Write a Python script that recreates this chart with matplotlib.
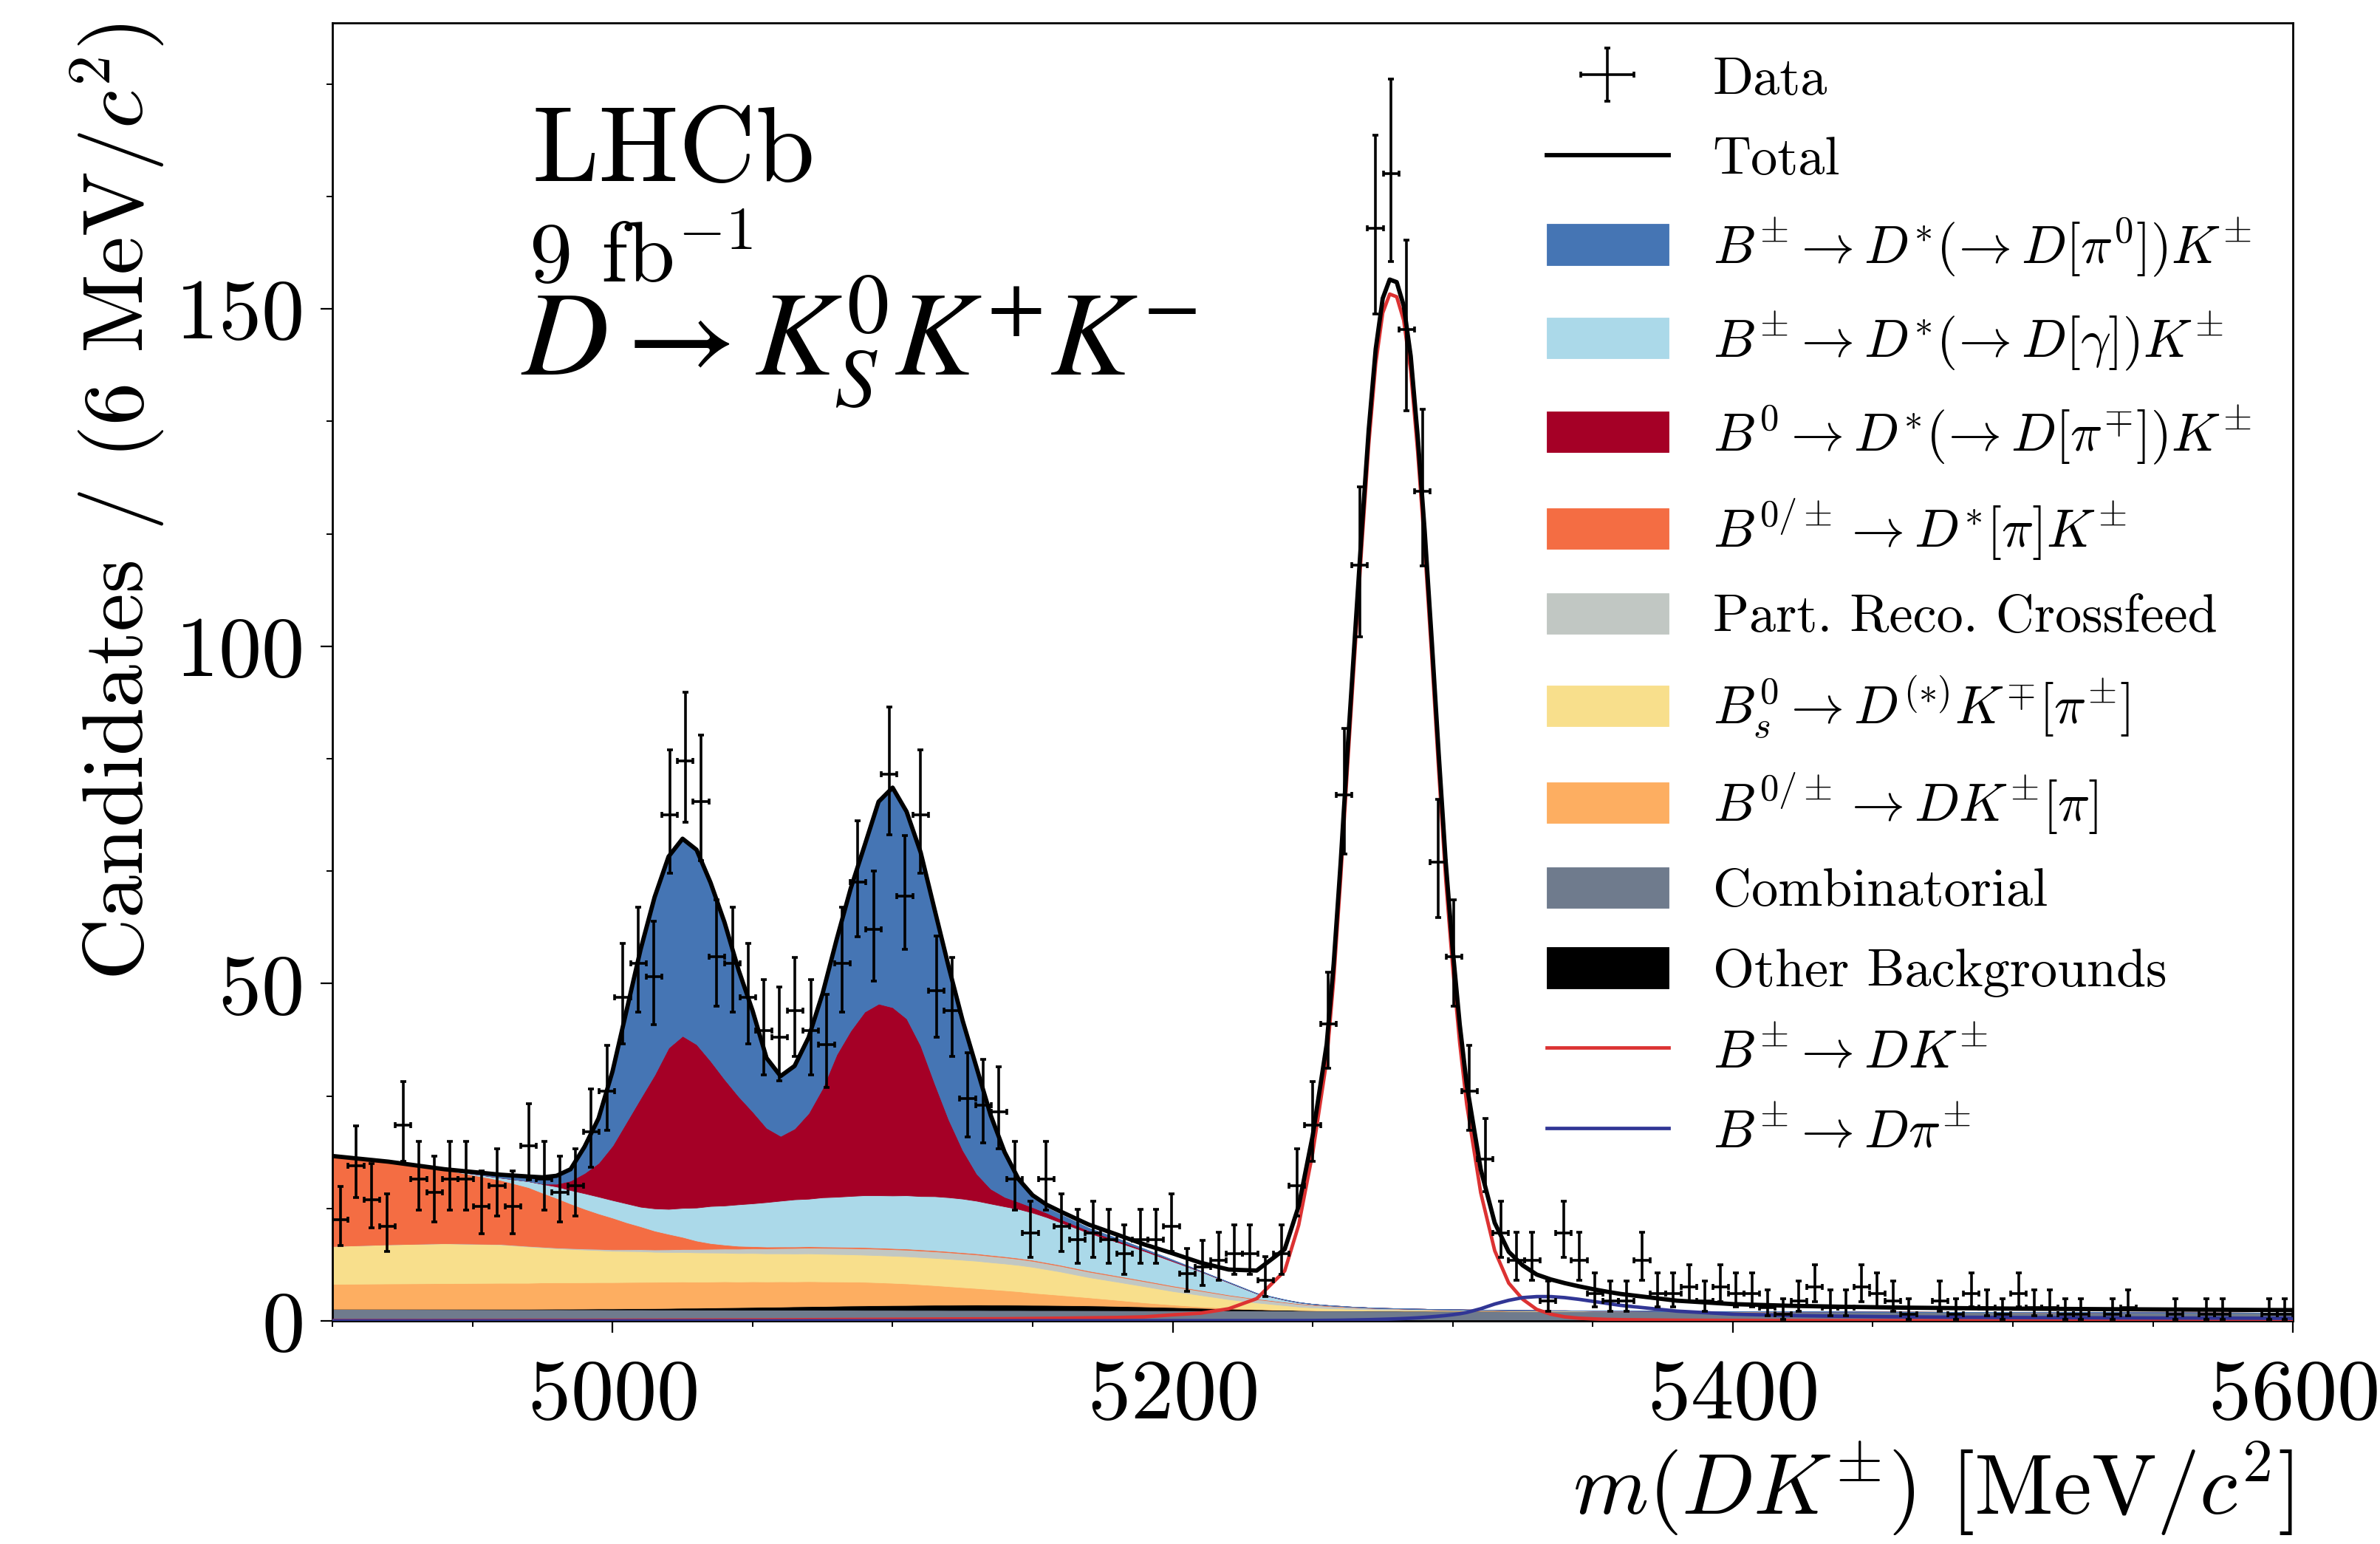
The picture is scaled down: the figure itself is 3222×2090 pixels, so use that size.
import numpy as np
import matplotlib
matplotlib.use('Agg')
import matplotlib.pyplot as plt
from matplotlib.ticker import MultipleLocator, AutoMinorLocator

plt.rcParams.update({
    'font.family': 'serif',
    'font.serif': ['cmr10'],
    'mathtext.fontset': 'cm',
    'axes.unicode_minus': False,
    'axes.formatter.use_mathtext': True,
})

# --- data: B -> DK candidates, 125 bins between 4900 and 5600 MeV ---
m_lo, m_hi, n_bins = 4900, 5600, 125
counts = [
    15, 23, 18, 14, 29, 21, 19, 21, 21, 17,
    20, 17, 26, 21, 19, 20, 28, 34, 48, 53,
    51, 75, 83, 77, 54, 53, 48, 43, 42, 46,
    43, 41, 53, 65, 58, 81, 63, 75, 49, 46,
    33, 32, 31, 21, 13, 21, 14, 12, 13, 12,
    10, 12, 12, 14, 7, 8, 9, 10, 10, 6,
    10, 20, 29, 44, 78, 112, 162, 170, 147, 123,
    68, 54, 34, 24, 13, 9, 9, 3, 13, 9,
    4, 3, 3, 9, 4, 4, 5, 3, 5, 4,
    4, 2, 1, 3, 5, 2, 2, 5, 4, 3,
    1, 0, 3, 1, 4, 2, 1, 4, 2, 2,
    1, 1, 0, 1, 2, 0, 0, 1, 0, 1,
    1, 0, 0, 1, 1,
]

# --- fit model, evaluated on a mass grid (denser around the peaks) ---
x_fit = np.concatenate([
    [4900, 4920, 4940, 4960],
    np.arange(4970, 5161, 5),
    np.arange(5170, 5241, 10),
    [5245, 5250],
    np.arange(5255, 5305.1, 2.5),
    [5310, 5315],
    np.arange(5320, 5361, 5),
    np.arange(5380, 5601, 20),
])

comb = [
    1.75, 1.74, 1.73, 1.71,
    1.70, 1.70, 1.70, 1.69, 1.69, 1.69, 1.68, 1.68, 1.68, 1.67,
    1.67, 1.67, 1.66, 1.66, 1.66, 1.65, 1.65, 1.65, 1.64, 1.64,
    1.64, 1.63, 1.63, 1.63, 1.62, 1.62, 1.62, 1.61, 1.61, 1.61,
    1.60, 1.60, 1.60, 1.59, 1.59, 1.59, 1.58, 1.58, 1.58,
    1.57, 1.56, 1.55, 1.55, 1.54, 1.53, 1.52, 1.52,
    1.51, 1.51, 1.51, 1.51, 1.51, 1.51, 1.51, 1.51, 1.50, 1.50, 1.50, 1.50, 1.50,
    1.50, 1.50, 1.50, 1.50, 1.49, 1.49, 1.49, 1.49, 1.49, 1.49, 1.49, 1.49,
    1.48, 1.48, 1.48, 1.47, 1.47, 1.47, 1.46, 1.46, 1.46,
    1.42, 1.40, 1.38, 1.36, 1.34, 1.32, 1.30, 1.28, 1.26, 1.24, 1.22, 1.20,
]
other = [
    0.03, 0.04, 0.05, 0.07,
    0.08, 0.09, 0.10, 0.11, 0.12, 0.14, 0.15, 0.17, 0.19, 0.21,
    0.23, 0.26, 0.28, 0.31, 0.34, 0.37, 0.40, 0.43, 0.46, 0.50,
    0.53, 0.56, 0.60, 0.63, 0.66, 0.69, 0.71, 0.73, 0.75, 0.77,
    0.78, 0.79, 0.80, 0.80, 0.80, 0.79, 0.78, 0.77, 0.75,
    0.71, 0.65, 0.57, 0.48, 0.38, 0.28, 0.19, 0.12,
    0.09, 0.07, 0.05, 0.04, 0.04, 0.03, 0.03, 0.03, 0.02, 0.02, 0.02, 0.02, 0.02,
    0.01, 0.01, 0.01, 0.01, 0.01, 0.01, 0.01, 0.01, 0.01, 0.01, 0.01, 0.01,
] + [0.0] * 21
dkpi = [
    3.70, 3.75, 3.80, 3.85,
    3.85, 3.90, 3.90, 3.90, 3.90, 3.90, 3.90, 3.90, 3.90, 3.90,
    3.90, 3.90, 3.85, 3.85, 3.85, 3.80, 3.80, 3.75, 3.75, 3.70,
    3.70, 3.65, 3.60, 3.55, 3.50, 3.40, 3.30, 3.20, 3.05, 2.90,
    2.75, 2.60, 2.45, 2.30, 2.15, 2.00, 1.80, 1.65, 1.50,
    1.20, 0.90, 0.60, 0.38, 0.20, 0.10, 0.05, 0.02,
    0.01, 0.01,
] + [0.0] * 44
bs = [
    5.60, 5.80, 5.90, 5.70,
    5.40, 5.20, 5.05, 4.95, 4.85, 4.75, 4.65, 4.60, 4.55, 4.45,
    4.40, 4.37, 4.35, 4.30, 4.25, 4.22, 4.20, 4.17, 4.15, 4.14,
    4.13, 4.10, 4.07, 4.05, 4.02, 4.02, 4.02, 4.03, 4.04, 4.05,
    4.07, 4.06, 4.05, 4.00, 3.96, 3.90, 3.84, 3.65, 3.47,
    3.00, 2.70, 2.40, 2.00, 1.70, 1.30, 0.95, 0.65,
    0.50, 0.40, 0.33, 0.30, 0.28, 0.25, 0.23, 0.21, 0.19, 0.17, 0.16, 0.15, 0.14,
    0.13, 0.12, 0.11, 0.10, 0.09, 0.08, 0.08, 0.07, 0.07, 0.06, 0.05, 0.04,
    0.03, 0.03, 0.02, 0.02, 0.02, 0.01, 0.01, 0.01, 0.01,
] + [0.0] * 12
xfeed = [
    0.00, 0.00, 0.02, 0.05,
    0.07, 0.09, 0.11, 0.13, 0.15, 0.18, 0.21, 0.25, 0.29, 0.34,
    0.39, 0.44, 0.50, 0.55, 0.60, 0.65, 0.70, 0.74, 0.78, 0.82,
    0.85, 0.88, 0.90, 0.92, 0.94, 0.95, 0.96, 0.97, 0.97, 0.97,
    0.96, 0.95, 0.94, 0.93, 0.92, 0.90, 0.89, 0.87, 0.85,
    0.82, 0.78, 0.74, 0.70, 0.64, 0.57, 0.50, 0.43,
    0.40, 0.36, 0.32, 0.30, 0.28, 0.26, 0.24, 0.22, 0.20, 0.18, 0.17, 0.16, 0.15,
    0.14, 0.13, 0.12, 0.11, 0.10, 0.09, 0.09, 0.08, 0.08, 0.07, 0.06, 0.05,
    0.05, 0.04, 0.04, 0.03, 0.03, 0.03, 0.02, 0.02, 0.02,
    0.01, 0.01,
] + [0.0] * 10
dstpik = [
    13.3, 12.2, 10.9, 9.50,
    8.70, 8.00, 7.35, 6.60, 5.90, 5.25, 4.70, 4.00, 3.40, 2.80,
    2.30, 1.80, 1.25, 0.85, 0.60, 0.43, 0.32, 0.26, 0.23, 0.21,
    0.20, 0.19, 0.19, 0.18, 0.18, 0.18, 0.17, 0.17, 0.17, 0.17,
    0.16, 0.16, 0.16, 0.16, 0.15, 0.15, 0.15, 0.15, 0.14,
    0.14, 0.13, 0.13, 0.12, 0.11, 0.10, 0.09, 0.08,
    0.08, 0.07, 0.07, 0.07, 0.07, 0.06, 0.06, 0.06, 0.06, 0.06, 0.06, 0.05, 0.05,
    0.05, 0.05, 0.05, 0.05, 0.05, 0.05, 0.04, 0.04, 0.04, 0.04, 0.04, 0.04,
    0.03, 0.03, 0.03, 0.03, 0.03, 0.02, 0.02, 0.02, 0.02,
    0.02, 0.01, 0.01, 0.01,
] + [0.0] * 8
dstgam = [
    0.00, 0.00, 0.00, 0.35,
    0.90, 1.30, 1.70, 2.00, 2.30, 2.50, 2.60, 2.80, 2.90, 3.30,
    3.70, 4.30, 4.90, 5.50, 5.80, 6.15, 6.35, 6.60, 6.80, 7.00,
    7.05, 7.30, 7.40, 7.55, 7.70, 7.75, 7.80, 7.90, 7.90, 8.00,
    8.00, 7.95, 7.80, 7.60, 7.40, 7.25, 7.00, 6.70, 6.30,
    5.60, 5.00, 4.35, 3.60, 2.75, 1.80, 0.75, 0.30,
    0.15, 0.08, 0.05, 0.03, 0.02, 0.01,
] + [0.0] * 40
b0 = [
    0.00, 0.00, 0.00, 0.00,
    0.00, 0.05, 0.40, 1.40, 3.00, 5.00, 8.10, 12.1, 16.1, 19.8,
    23.9, 25.5, 24.2, 21.5, 18.7, 16.0, 13.6, 11.0, 9.60, 10.5,
    12.7, 16.2, 21.1, 24.5, 27.2, 28.4, 27.9, 26.2, 22.3, 16.7,
    11.5, 7.20, 4.00, 2.20, 1.40, 1.05, 0.80, 0.65, 0.50,
    0.35, 0.25, 0.18, 0.12, 0.07, 0.05, 0.03, 0.02,
    0.01,
] + [0.0] * 45
dstpi0 = [
    0.00, 0.00, 0.00, 0.35,
    0.60, 0.85, 1.10, 1.60, 3.80, 6.50, 10.9, 16.4, 21.9, 26.2,
    28.2, 29.1, 28.7, 26.3, 23.1, 18.6, 14.8, 10.2, 8.70, 9.10,
    11.0, 13.8, 16.8, 20.8, 24.4, 29.7, 32.3, 30.4, 28.4, 25.5,
    22.4, 18.9, 15.4, 10.6, 6.30, 3.00, 1.40, 0.80, 0.70,
    0.42, 0.32, 0.17, 0.13, 0.05, 0.04, 0.04, 0.03,
    0.02,
] + [0.0] * 45

# signal B -> DK and misidentified B -> Dpi (drawn as lines, not stacked)
dk = [
    0.05, 0.06, 0.07, 0.08,
    0.09, 0.09, 0.09, 0.09, 0.09, 0.10, 0.10, 0.10, 0.11, 0.11,
    0.12, 0.12, 0.13, 0.13, 0.14, 0.14, 0.15, 0.15, 0.16, 0.17,
    0.18, 0.19, 0.20, 0.21, 0.22, 0.23, 0.24, 0.25, 0.26, 0.27,
    0.28, 0.29, 0.30, 0.31, 0.32, 0.34, 0.36, 0.38, 0.40,
    0.45, 0.50, 0.60, 0.90, 1.15, 1.80, 3.30, 7.40,
    14.2, 24.9, 38.6, 50.6, 65.7, 82.7, 98.8, 114.8, 129.9, 141.9, 149.4, 152.2, 151.8,
    148.3, 140.8, 128.8, 114.7, 98.6, 81.6, 65.5, 52.4, 41.2, 32.1, 19.0, 10.4,
    5.60, 3.20, 1.70, 1.00, 0.60, 0.40, 0.30, 0.22, 0.18,
    0.10, 0.07, 0.05, 0.04, 0.03, 0.03, 0.02, 0.02, 0.02, 0.02, 0.02, 0.02,
]
dpi = [0.01] * 24 + [0.02] * 21 + [
    0.03, 0.03, 0.03, 0.04, 0.04, 0.05,
    0.05, 0.06, 0.08, 0.09, 0.10, 0.12, 0.14, 0.16, 0.18, 0.21, 0.24, 0.27, 0.31,
    0.35, 0.40, 0.46, 0.53, 0.61, 0.70, 0.80, 0.92, 1.06, 1.25, 1.80, 2.50,
    3.05, 3.45, 3.60, 3.60, 3.45, 3.20, 2.90, 2.60, 2.30,
    1.45, 1.00, 0.80, 0.68, 0.60, 0.54, 0.50, 0.47, 0.44, 0.42, 0.40, 0.38,
]

stack = [comb, other, dkpi, bs, xfeed, dstpik, dstgam, b0, dstpi0]
stack_colors = ['#6f7b8d', '#000000', '#fdae61', '#f8df8c', '#c1c7c3',
                '#f46d43', '#abd9e9', '#a50026', '#4575b4']
total = np.sum(np.array(stack), axis=0) + np.array(dk) + np.array(dpi)

# --- data points with Poisson intervals ---
edges = np.linspace(m_lo, m_hi, n_bins + 1)
centres = 0.5 * (edges[:-1] + edges[1:])
half_bin = 0.5 * (edges[1] - edges[0])
n = np.array(counts, dtype=float)
filled = n > 0
n_f = n[filled]
lower = n_f * (1 - 1 / (9 * n_f) - 1 / (3 * np.sqrt(n_f))) ** 3
upper = (n_f + 1) * (1 - 1 / (9 * (n_f + 1)) + 1 / (3 * np.sqrt(n_f + 1))) ** 3
yerr = [n_f - lower, upper - n_f]

fig = plt.figure(figsize=(32.22, 20.90), dpi=100)
ax = fig.add_axes([0.1397, 0.1445, 0.8237, 0.8407])

polys = ax.stackplot(x_fit, *stack, colors=stack_colors, lw=0.6,
                     edgecolor='face', zorder=1)
l_dk, = ax.plot(x_fit, dk, color='#dc3232', lw=3.4, zorder=3)
l_dpi, = ax.plot(x_fit, dpi, color='#313695', lw=3.4, zorder=3)
l_tot, = ax.plot(x_fit, total, color='black', lw=4.2, zorder=4)
data = ax.errorbar(centres[filled], n_f, yerr=yerr, xerr=half_bin, fmt='none',
                   ecolor='black', elinewidth=2.6, capsize=3.2, capthick=2.6,
                   zorder=5)

ax.set_xlim(m_lo, m_hi)
ax.set_ylim(0, 192.4)
ax.xaxis.set_major_locator(MultipleLocator(200))
ax.xaxis.set_minor_locator(MultipleLocator(50))
ax.yaxis.set_major_locator(MultipleLocator(50))
ax.yaxis.set_minor_locator(AutoMinorLocator(3))
ax.tick_params(which='both', direction='out', top=False, right=False)
ax.tick_params(which='major', length=11.5, width=1.6, labelsize=84)
ax.tick_params(axis='x', which='major', pad=26)
ax.tick_params(axis='y', which='major', pad=18)
ax.tick_params(which='minor', length=6, width=1.4)
for sp in ax.spines.values():
    sp.set_linewidth(2.0)

ax.set_ylabel(r'Candidates / (6 MeV/$c^2$)', fontsize=84, loc='top', labelpad=8)
ax.set_xlabel(r'$m(DK^{\pm})$ [MeV/$c^2$]', fontsize=84, loc='right', labelpad=5)

ax.text(0.102, 0.878, 'LHCb', transform=ax.transAxes, fontsize=104, va='baseline')
ax.text(0.100, 0.800, r'9 fb$^{-1}$', transform=ax.transAxes, fontsize=84,
        va='baseline')
ax.text(0.096, 0.728, r'$D \rightarrow K^{0}_{S}K^{+}K^{-}$', transform=ax.transAxes,
        fontsize=117, va='baseline', math_fontfamily='stix')

handles = [data, l_tot, polys[8], polys[6], polys[7], polys[5], polys[4],
           polys[3], polys[2], polys[0], polys[1], l_dk, l_dpi]
labels = [
    'Data',
    'Total',
    r'$B^{\pm} \rightarrow D^{*}(\!\rightarrow D[\pi^{0}])K^{\pm}$',
    r'$B^{\pm} \rightarrow D^{*}(\!\rightarrow D[\gamma])K^{\pm}$',
    r'$B^{0} \rightarrow D^{*}(\!\rightarrow D[\pi^{\mp}])K^{\pm}$',
    r'$B^{0/\pm} \rightarrow D^{*}[\pi]K^{\pm}$',
    'Part. Reco. Crossfeed',
    r'$B^{0}_{s} \rightarrow D^{(*)}K^{\mp}[\pi^{\pm}]$',
    r'$B^{0/\pm} \rightarrow DK^{\pm}[\pi]$',
    'Combinatorial',
    'Other Backgrounds',
    r'$B^{\pm} \rightarrow DK^{\pm}$',
    r'$B^{\pm} \rightarrow D\pi^{\pm}$',
]
ax.legend(handles, labels, loc='upper left', bbox_to_anchor=(0.6194, 0.975),
          frameon=False, fontsize=52, borderpad=0, borderaxespad=0,
          handlelength=2.28, handleheight=0.8, handletextpad=0.83,
          labelspacing=0.58)

fig.savefig('out.png', dpi=100)
